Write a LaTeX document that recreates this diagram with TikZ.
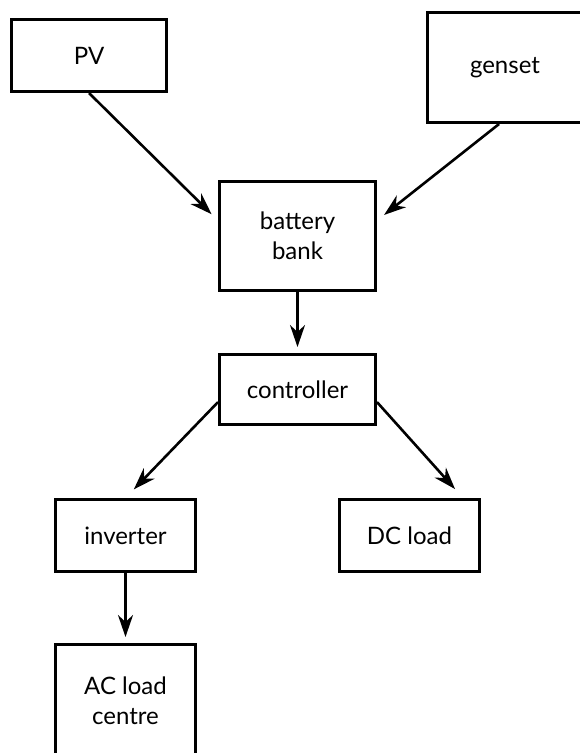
\documentclass[tikz,border=0pt]{standalone}
\usepackage{fontspec}
\setmainfont{Lato}
\usetikzlibrary{arrows.meta}
\begin{document}
\begin{tikzpicture}[x=1pt,y=-1pt,line width=3pt,
box/.style={draw,inner sep=0pt,align=center,font=\fontsize{24}{30}\selectfont},
flow/.style={line width=2.6pt,-{Stealth[length=22pt,width=15pt,inset=7pt]},shorten >=6pt}]
\useasboundingbox (0,0) rectangle (580,753);
\clip (0,0) rectangle (580,753);
\node[box,minimum width=155pt,minimum height=72pt] (pv) at (89,55.5) {PV};
\node[box,minimum width=155pt,minimum height=110pt] (genset) at (505,67.5) {genset};
\node[box,minimum width=156pt,minimum height=109pt] (battery) at (297.5,236) {battery\\bank};
\node[box,minimum width=156pt,minimum height=70pt] (controller) at (297.5,389.5) {controller};
\node[box,minimum width=140pt,minimum height=72pt] (inverter) at (125.5,535.5) {inverter};
\node[box,minimum width=140pt,minimum height=72pt] (dcload) at (409.5,535.5) {DC load};
\node[box,minimum width=140pt,minimum height=112pt] (acload) at (125.5,700.5) {AC load\\centre};
\draw[flow,shorten >=9pt] (pv.south)--(battery.169);\draw[flow,shorten >=9pt] (genset.264)--(battery.11);
\draw[flow] (battery.south)--(controller.north);
\draw[flow,shorten >=12pt] (controller.189)--(inverter.north);\draw[flow,shorten >=12pt] (controller.-9)--(dcload.35);
\draw[flow] (inverter.south)--(acload.north);
\end{tikzpicture}
\end{document}
